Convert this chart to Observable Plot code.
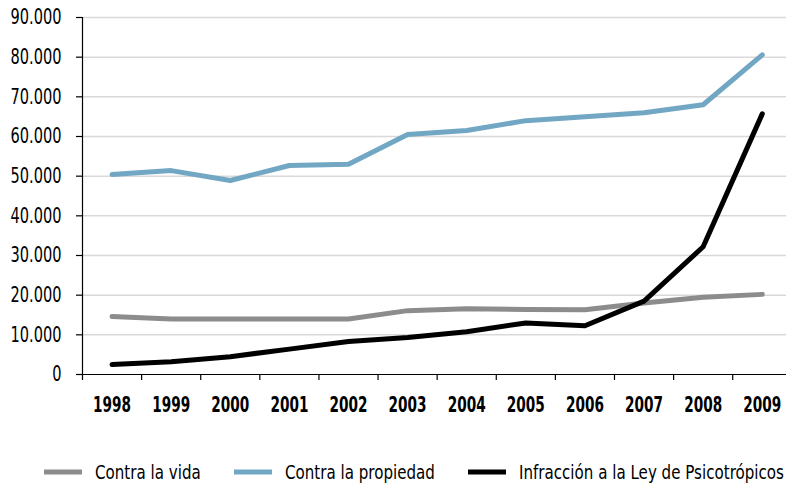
<!DOCTYPE html>
<html>
<head>
<meta charset="utf-8">
<script src="https://cdn.jsdelivr.net/npm/d3@7"></script>
<script src="https://cdn.jsdelivr.net/npm/@observablehq/plot@0.6"></script>
<style>
  body { margin: 0; background: #fff; }
</style>
</head>
<body>
<div id="chart"></div>
<script>
const years = [1998, 1999, 2000, 2001, 2002, 2003, 2004, 2005, 2006, 2007, 2008, 2009];
const contraVida = [14600, 14000, 14000, 14000, 14000, 16100, 16600, 16400, 16300, 18000, 19500, 20200];
const contraPropiedad = [50400, 51400, 48900, 52700, 53000, 60500, 61500, 64000, 65000, 66000, 68000, 80600];
const psicotropicos = [2500, 3200, 4500, 6400, 8300, 9300, 10800, 13000, 12300, 18500, 32200, 65700];
const seriesNames = ["Contra la vida", "Contra la propiedad", "Infracción a la Ley de Psicotrópicos"];
const seriesColors = ["#8c8c8c", "#72a7c4", "#000000"];
const yTicks = [0, 10000, 20000, 30000, 40000, 50000, 60000, 70000, 80000, 90000];

const allSeries = [contraVida, contraPropiedad, psicotropicos];
const data = [];
allSeries.forEach((vals, si) => vals.forEach((v, i) => data.push({year: years[i], value: v, series: seriesNames[si]})));

const boundaries = years.map(y => y - 0.5).concat([years[years.length - 1] + 0.5]);
const fmt = d => d === 0 ? "0" : d3.format(",")(d).replace(/,/g, ".");

const chart = Plot.plot({
  width: 786,
  height: 485,
  marginLeft: 82,
  marginRight: 0,
  marginTop: 17,
  marginBottom: 111,
  style: { fontFamily: "'DejaVu Sans', sans-serif", fontSize: "20px", color: "#000", overflow: "visible" },
  x: { type: "linear", domain: [1997.5, 2009.41], label: null },
  y: { type: "linear", domain: [0, 90000], label: null },
  color: { domain: seriesNames, range: seriesColors },
  marks: [
    Plot.ruleY(yTicks.filter(d => d > 0), { stroke: "#d9d9d9", strokeWidth: 1.5 }),
    Plot.line(data, { x: "year", y: "value", z: "series", stroke: "series", strokeWidth: 5, strokeLinejoin: "round" }),
    Plot.ruleX([1997.5], { stroke: "#000", strokeWidth: 1.2 }),
    Plot.ruleY([0], { stroke: "#000", strokeWidth: 1.2 }),
    Plot.axisY({ ticks: yTicks, tickFormat: fmt, tickSize: 6, tickPadding: 15, fontSize: 21, label: null, strokeWidth: 1.2, className: "yax" }),
    Plot.axisX({ ticks: boundaries, tickFormat: () => "", tickSize: 6, label: null, strokeWidth: 1.2 }),
    Plot.text(years, { x: d => d, y: 0, dy: 31, text: d => String(d), fontWeight: "bold", fontSize: 21, fill: "#000", className: "xlab" })
  ]
});
document.getElementById("chart").appendChild(chart);

// legend (inside the svg so it can be condensed like the axis texts)
const lefts = [44, 234, 468];
const lg = d3.select(chart).append("g").attr("class", "legend");
seriesNames.forEach((name, i) => {
  lg.append("rect").attr("x", lefts[i]).attr("y", 469.5).attr("width", 38).attr("height", 5).attr("fill", seriesColors[i]);
  lg.append("text").attr("x", lefts[i] + 51).attr("y", 472).attr("dy", "0.35em")
    .attr("text-anchor", "start").attr("font-size", 19).attr("fill", "#000").text(name);
});

// emulate a condensed face: squeeze texts horizontally about their anchor,
// by the factor that brings a reference text to the width seen in the original
function condense(sel, refText, targetW, anchor) {
  const nodes = Array.from(chart.querySelectorAll(sel));
  const ref = nodes.find(t => t.textContent === refText) || nodes[0];
  const s = targetW / ref.getBoundingClientRect().width;
  nodes.forEach(t => {
    const parent = t.parentNode;
    const r = t.getBoundingClientRect();
    const sx = anchor === "end" ? r.right : anchor === "middle" ? (r.left + r.right) / 2 : r.left;
    const m = parent.getScreenCTM().inverse();
    const p = chart.createSVGPoint(); p.x = sx; p.y = r.top;
    const q = p.matrixTransform(m);
    const ex = t.getAttribute("transform") || "";
    t.setAttribute("transform", `translate(${q.x},0) scale(${s},1) translate(${-q.x},0) ${ex}`);
  });
}
condense(".yax text", "90.000", 51, "end");
condense(".xlab text", "1998", 38, "middle");
condense(".legend text", "Infracción a la Ley de Psicotrópicos", 265, "start");
</script>
</body>
</html>
